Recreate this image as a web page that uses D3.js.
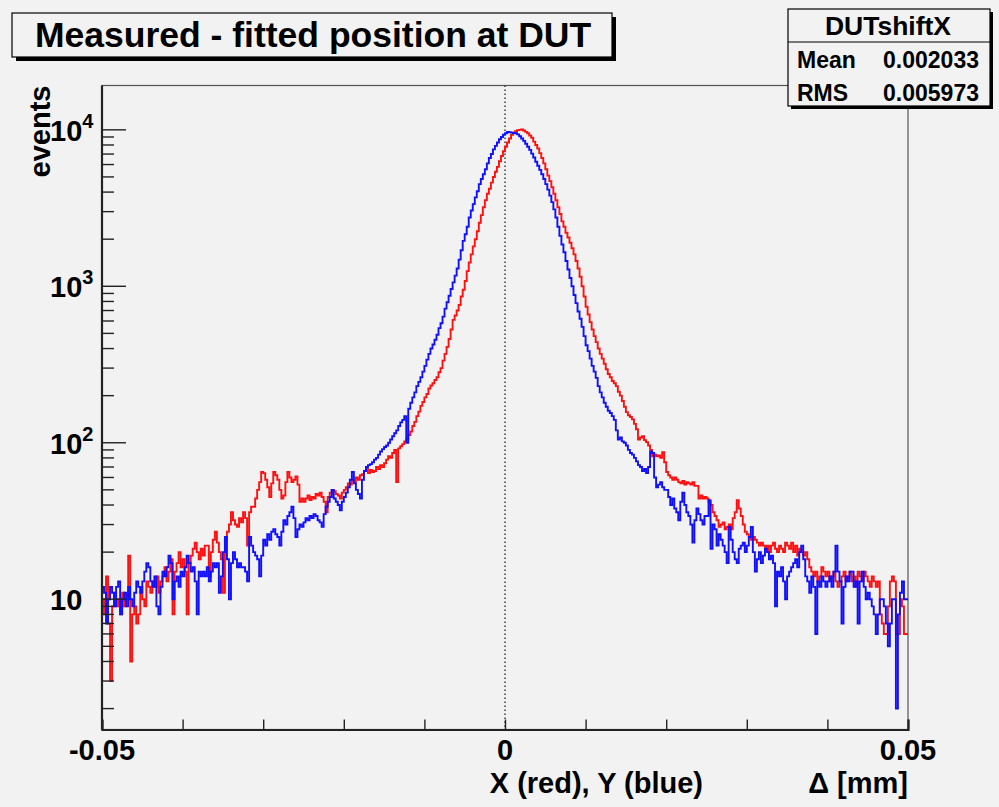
<!DOCTYPE html>
<html>
<head>
<meta charset="utf-8">
<script src="https://cdn.jsdelivr.net/npm/d3@7"></script>
<style>
  body { margin: 0; background: #f2f2f2; }
  svg { display: block; }
  text { font-family: "Liberation Sans", Arial, Helvetica, sans-serif; font-weight: bold; fill: #000; }
</style>
</head>
<body>
<svg id="canvas" width="999" height="807"></svg>
<script>
// Histogram binning: 400 bins between -0.05 and 0.05 mm
const xMin = -0.05;
const xMax = 0.05;
const nBins = 400;

// X residuals (red), counts per bin
const countsX = [
  10, 8, 14, 7, 3, 9, 11, 9, 10, 8,
  11, 9, 10, 19, 4, 8, 9, 7, 8, 12,
  10, 9, 13, 12, 11, 13, 12, 14, 11, 13,
  14, 16, 13, 15, 18, 8, 15, 17, 20, 16,
  18, 15, 8, 17, 19, 21, 23, 20, 18, 21,
  19, 22, 22, 14, 20, 24, 27, 23, 20, 18,
  11, 24, 27, 30, 36, 32, 30, 29, 33, 31,
  36, 33, 22, 36, 39, 39, 44, 50, 56, 65,
  64, 58, 52, 45, 55, 65, 62, 58, 50, 44,
  46, 56, 65, 60, 56, 58, 61, 54, 42, 44,
  42, 44, 46, 43, 45, 44, 47, 46, 48, 45,
  42, 36, 45, 48, 50, 49, 47, 46, 44, 48,
  50, 52, 55, 54, 58, 56, 60, 58, 62, 63,
  66, 68, 64, 67, 65, 66, 70, 68, 72, 70,
  74, 78, 82, 80, 86, 90, 56, 92, 95, 98,
  102, 106, 112, 118, 128, 136, 148, 158, 172, 182,
  195, 205, 222, 232, 240, 252, 262, 282, 300, 335,
  370, 410, 460, 530, 610, 650, 700, 760, 860, 950,
  1080, 1250, 1420, 1600, 1800, 2000, 2250, 2550, 2850, 3200,
  3550, 3900, 4200, 4600, 5000, 5400, 5800, 6300, 6800, 7300,
  7800, 8300, 8800, 9300, 9600, 9800, 9950, 10000, 10050, 9900,
  9700, 9500, 9200, 8900, 8400, 8000, 7600, 7100, 6600, 6100,
  5600, 5100, 4700, 4300, 3900, 3550, 3200, 2900, 2600, 2400,
  2200, 2050, 1900, 1750, 1600, 1450, 1300, 1150, 1000, 860,
  740, 660, 590, 530, 480, 440, 400, 370, 345, 320,
  295, 275, 262, 248, 240, 230, 212, 200, 185, 170,
  157, 150, 146, 141, 132, 122, 105, 108, 110, 104,
  101, 96, 90, 82, 84, 82, 83, 80, 87, 75,
  65, 62, 60, 58, 60, 58, 56, 55, 57, 54,
  56, 55, 54, 56, 53, 53, 44, 46, 44, 45,
  44, 42, 40, 36, 34, 32, 29, 30, 31, 28,
  29, 30, 28, 33, 36, 43, 38, 34, 30, 27,
  26, 25, 24, 25, 24, 23, 22, 23, 22, 21,
  22, 20, 22, 23, 21, 20, 22, 21, 20, 23,
  22, 21, 23, 20, 22, 19, 21, 20, 19, 20,
  18, 16, 15, 14, 15, 13, 14, 16, 15, 14,
  15, 13, 14, 15, 13, 12, 13, 14, 15, 13,
  14, 15, 13, 14, 12, 15, 14, 13, 15, 14,
  13, 12, 14, 13, 12, 13, 8, 7, 6, 6,
  9, 13, 14, 13, 6, 6, 10, 9, 6, 6
];

// Y residuals (blue), counts per bin
const countsY = [
  12, 11, 7, 10, 12, 11, 9, 12, 13, 8,
  10, 11, 9, 12, 10, 9, 11, 13, 12, 11,
  13, 15, 17, 16, 13, 12, 14, 9, 8, 12,
  15, 14, 16, 19, 17, 10, 13, 14, 12, 15,
  14, 16, 19, 17, 15, 16, 13, 8, 15, 14,
  15, 14, 16, 13, 15, 17, 16, 17, 11, 14,
  20, 25, 18, 10, 17, 20, 18, 16, 17, 16,
  16, 15, 13, 25, 22, 20, 19, 18, 14, 19,
  24, 22, 26, 24, 27, 28, 26, 25, 22, 27,
  32, 30, 34, 36, 39, 33, 25, 28, 30, 29,
  31, 33, 32, 34, 33, 35, 34, 32, 31, 29,
  35, 39, 42, 45, 50, 44, 42, 40, 37, 42,
  45, 48, 52, 58, 65, 55, 50, 47, 44, 58,
  66, 70, 72, 73, 75, 78, 80, 84, 88, 91,
  94, 96, 100, 105, 110, 115, 120, 128, 135, 140,
  148, 100, 165, 180, 195, 210, 230, 245, 262, 285,
  310, 340, 370, 400, 425, 455, 490, 540, 580, 640,
  720, 790, 870, 960, 1060, 1170, 1300, 1480, 1700, 1950,
  2150, 2400, 2750, 3050, 3350, 3700, 4050, 4500, 4850, 5200,
  5600, 6100, 6600, 7000, 7500, 7900, 8300, 8700, 9000, 9300,
  9500, 9700, 9650, 9600, 9550, 9500, 9350, 9100, 8800, 8500,
  8150, 7800, 7450, 7050, 6650, 6250, 5900, 5550, 5200, 4850,
  4500, 4150, 3800, 3450, 3100, 2750, 2400, 2100, 1850, 1650,
  1450, 1280, 1130, 1000, 880, 780, 690, 620, 550, 480,
  420, 385, 345, 310, 285, 260, 230, 210, 195, 180,
  170, 160, 155, 148, 140, 120, 105, 108, 102, 100,
  96, 90, 86, 84, 80, 76, 72, 70, 66, 68,
  64, 70, 88, 86, 60, 52, 54, 56, 52, 50,
  50, 45, 40, 44, 38, 36, 32, 42, 48, 40,
  36, 34, 30, 23, 32, 38, 35, 32, 30, 34,
  34, 43, 21, 30, 28, 22, 26, 24, 22, 20,
  17, 29, 24, 20, 18, 17, 21, 22, 23, 20,
  22, 25, 29, 20, 15, 18, 20, 17, 19, 21,
  20, 18, 19, 17, 9, 15, 14, 16, 13, 10,
  14, 15, 16, 17, 18, 16, 20, 22, 18, 14,
  13, 11, 14, 12, 6, 13, 12, 14, 13, 12,
  13, 14, 12, 15, 22, 15, 13, 7, 12, 14,
  13, 15, 15, 12, 13, 7, 13, 15, 12, 10,
  11, 10, 9, 8, 6, 8, 10, 10, 9, 7,
  5, 7, 10, 10, 2, 8, 11, 13, 10, 10
];

// Axis ticks and labels
const xTickValues = [-0.05, -0.04, -0.03, -0.02, -0.01, 0, 0.01, 0.02, 0.03, 0.04, 0.05];
const xLabelValues = [-0.05, 0, 0.05];
const xLabelTexts = ["-0.05", "0", "0.05"];
const yRange = [1.47, 19200];
const yDecades = [10, 100, 1000, 10000];
const yDecadeExp = ["1", "2", "3", "4"];

// Statistics box content
const statsTitle = "DUTshiftX";
const statsNames = ["Mean", "RMS"];
const statsValues = ["0.002033", "0.005973"];

const svg = d3.select("#canvas");
const W = 999, H = 807;
const frame = { left: 102, right: 908, top: 85.5, bottom: 729.5 };

svg.append("rect").attr("width", W).attr("height", H).attr("fill", "#f2f2f2");

const x = d3.scaleLinear().domain([xMin, xMax]).range([frame.left, frame.right]);
const y = d3.scaleLog().domain(yRange).range([frame.bottom, frame.top]);

// Frame outline
svg.append("rect")
  .attr("x", frame.left).attr("y", frame.top)
  .attr("width", frame.right - frame.left).attr("height", frame.bottom - frame.top)
  .attr("fill", "#f2f2f2").attr("stroke", "#555").attr("stroke-width", 1.2);

// Dotted line at zero
svg.append("line")
  .attr("x1", x(0)).attr("x2", x(0))
  .attr("y1", frame.top).attr("y2", frame.bottom)
  .attr("stroke", "#333").attr("stroke-width", 1.4)
  .attr("stroke-dasharray", "1.4,2.6");

// Step outlines of the two histograms
const binW = (xMax - xMin) / nBins;
function stepPoints(counts) {
  const pts = [];
  counts.forEach((c, i) => {
    pts.push([xMin + i * binW, c]);
    pts.push([xMin + (i + 1) * binW, c]);
  });
  return pts;
}
const stepLine = d3.line().x(d => x(d[0])).y(d => y(d[1]));

const plot = svg.append("g");
plot.append("path").datum(stepPoints(countsX))
  .attr("d", stepLine).attr("fill", "none")
  .attr("stroke", "#ff1010").attr("stroke-width", 1.9).attr("stroke-linejoin", "miter");
plot.append("path").datum(stepPoints(countsY))
  .attr("d", stepLine).attr("fill", "none")
  .attr("stroke", "#1010ff").attr("stroke-width", 1.9).attr("stroke-linejoin", "miter");

// X axis
const xAxis = svg.append("g").attr("transform", `translate(0,${frame.bottom})`)
  .call(d3.axisBottom(x).tickValues(xTickValues).tickSize(-10).tickFormat(""));
xAxis.select(".domain").attr("stroke", "#222").attr("stroke-width", 2.2);
xAxis.selectAll(".tick line").attr("stroke", "#222").attr("stroke-width", 1.4);

svg.append("g").selectAll("text").data(xLabelValues).join("text")
  .attr("x", d => x(d)).attr("y", 760)
  .attr("text-anchor", "middle").attr("font-size", 29)
  .text((d, i) => xLabelTexts[i]);

// Y axis: decade ticks and minor ticks
const yMinor = [];
[1, 10, 100, 1000, 10000].forEach(dec => {
  for (let k = 2; k <= 9; k++) {
    const v = k * dec;
    if (v >= yRange[0] && v <= yRange[1]) yMinor.push(v);
  }
});
const yAxisG = svg.append("g");
yAxisG.selectAll("line.minor").data(yMinor).join("line")
  .attr("class", "minor")
  .attr("x1", frame.left).attr("x2", frame.left + 12)
  .attr("y1", d => y(d)).attr("y2", d => y(d))
  .attr("stroke", "#222").attr("stroke-width", 1.4);
yAxisG.selectAll("line.major").data(yDecades).join("line")
  .attr("class", "major")
  .attr("x1", frame.left).attr("x2", frame.left + 24)
  .attr("y1", d => y(d)).attr("y2", d => y(d))
  .attr("stroke", "#222").attr("stroke-width", 1.4);
yAxisG.append("line")
  .attr("x1", frame.left).attr("x2", frame.left)
  .attr("y1", frame.top).attr("y2", frame.bottom)
  .attr("stroke", "#222").attr("stroke-width", 2.2);

const yLab = svg.append("g").selectAll("text").data(yDecades).join("text")
  .attr("x", 50).attr("y", d => y(d) + 11)
  .attr("text-anchor", "start").attr("font-size", 29);
yLab.append("tspan").text("10");
yLab.filter((d, i) => i > 0).append("tspan")
  .attr("dy", -13).attr("font-size", 20)
  .text((d, i) => yDecadeExp[i + 1]);

// Axis titles
svg.append("text")
  .attr("transform", `translate(50,${frame.top}) rotate(-90)`)
  .attr("text-anchor", "end").attr("font-size", 29)
  .text("events");
svg.append("text").attr("x", 703).attr("y", 793)
  .attr("text-anchor", "end").attr("font-size", 29)
  .text("X (red), Y (blue)");
svg.append("text").attr("x", frame.right).attr("y", 793)
  .attr("text-anchor", "end").attr("font-size", 29)
  .text("Δ [mm]");

// Title box with shadow
const tb = { x: 12, y: 13, w: 600, h: 44 };
svg.append("rect").attr("x", tb.x + 4).attr("y", tb.y + 4).attr("width", tb.w).attr("height", tb.h).attr("fill", "#000");
svg.append("rect").attr("x", tb.x).attr("y", tb.y).attr("width", tb.w).attr("height", tb.h)
  .attr("fill", "#f2f2f2").attr("stroke", "#000").attr("stroke-width", 1.2);
svg.append("text").attr("x", 35).attr("y", 47).attr("font-size", 35.5)
  .text("Measured - fitted position at DUT");

// Statistics box with shadow
const sb = { x: 788, y: 9, w: 202, h: 97, div: 42 };
svg.append("rect").attr("x", sb.x + 3).attr("y", sb.y + 3).attr("width", sb.w).attr("height", sb.h).attr("fill", "#000");
svg.append("rect").attr("x", sb.x).attr("y", sb.y).attr("width", sb.w).attr("height", sb.h)
  .attr("fill", "#f2f2f2").attr("stroke", "#000").attr("stroke-width", 1.2);
svg.append("line").attr("x1", sb.x).attr("x2", sb.x + sb.w).attr("y1", sb.div).attr("y2", sb.div)
  .attr("stroke", "#000").attr("stroke-width", 1.2);
svg.append("text").attr("x", sb.x + sb.w / 2 - 1).attr("y", 35)
  .attr("text-anchor", "middle").attr("font-size", 26.5).text(statsTitle);
statsNames.forEach((n, i) => {
  svg.append("text").attr("x", 797).attr("y", 68 + i * 33).attr("font-size", 23).text(n);
  svg.append("text").attr("x", 979).attr("y", 68 + i * 33)
    .attr("text-anchor", "end").attr("font-size", 23).text(statsValues[i]);
});
</script>
</body>
</html>
